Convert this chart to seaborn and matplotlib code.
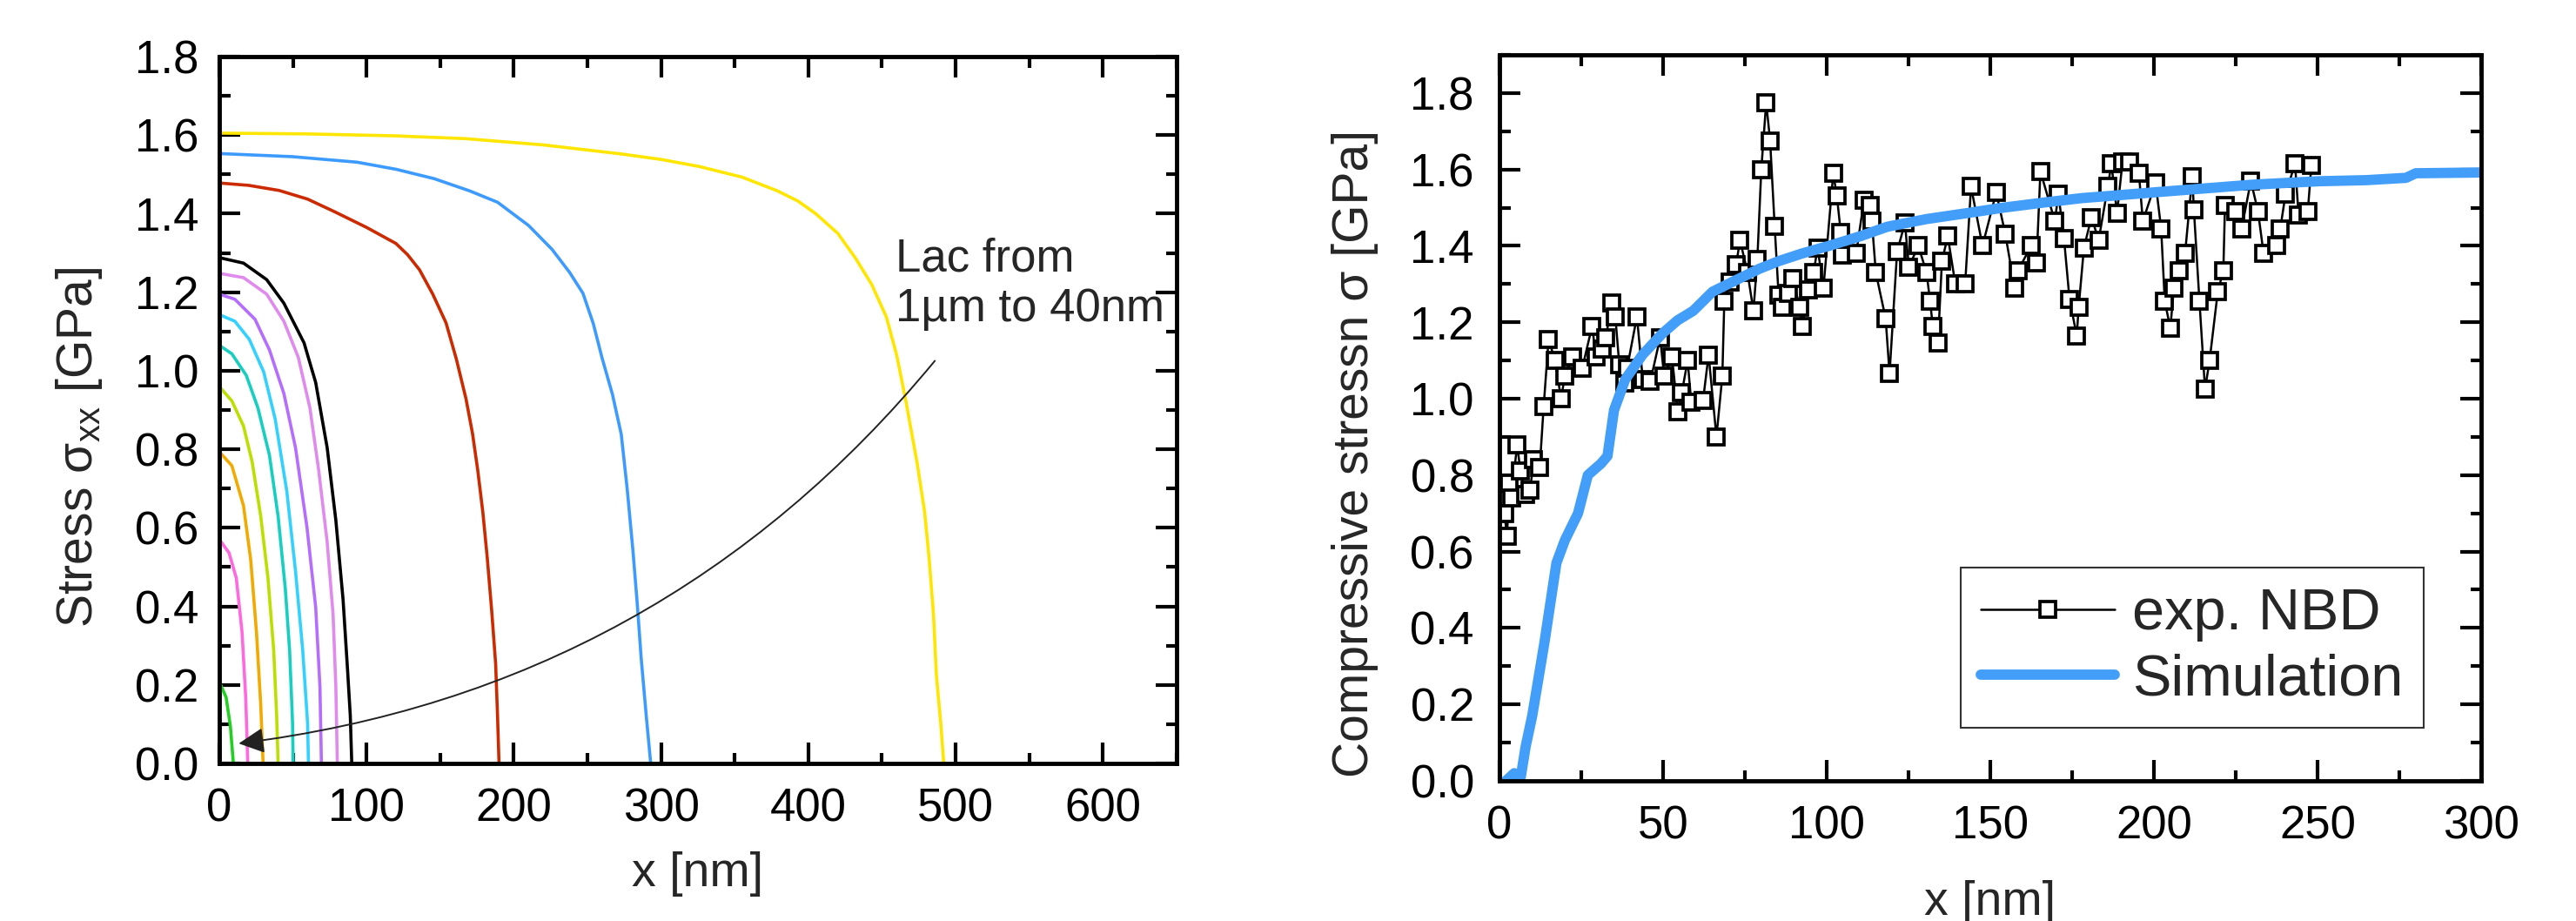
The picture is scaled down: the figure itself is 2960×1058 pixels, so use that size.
import pandas as pd
import seaborn as sns
import matplotlib.pyplot as plt
from matplotlib.ticker import MultipleLocator, FormatStrFormatter

sns.set_style('ticks')
plt.rcParams['font.family'] = ['Liberation Sans', 'DejaVu Sans']
plt.rcParams['mathtext.fontset'] = 'custom'
plt.rcParams['mathtext.rm'] = 'Liberation Sans'
plt.rcParams['mathtext.it'] = 'Liberation Sans:italic'

# ---- left panel: stress profiles for different Lac
yellow_x = [0, 60, 120, 167, 220, 273, 300, 326, 355, 379, 393, 405, 420, 432, 443, 453, 460, 466,
            474, 479, 482, 485, 487, 490, 492]
yellow_y = [1.605, 1.603, 1.598, 1.591, 1.575, 1.552, 1.538, 1.52, 1.493, 1.458, 1.432, 1.40, 1.35,
            1.287, 1.22, 1.137, 1.04, 0.928, 0.763, 0.64, 0.524, 0.38, 0.224, 0.10, 0.0]
blue_x = [0, 50, 93.6, 120, 146, 170, 189, 210, 226, 238, 247, 254, 260, 267, 273, 277, 281, 284,
          286.5, 290, 293]
blue_y = [1.553, 1.545, 1.531, 1.513, 1.489, 1.458, 1.429, 1.37, 1.309, 1.25, 1.197, 1.12, 1.032,
          0.94, 0.838, 0.70, 0.539, 0.40, 0.269, 0.12, 0.0]
red_x = [0, 20, 40.7, 60, 77.7, 100, 120, 128, 136, 145, 154, 161, 167.6, 172, 175.5, 179, 182,
         185, 187.7, 189, 190]
red_y = [1.478, 1.472, 1.459, 1.437, 1.406, 1.365, 1.324, 1.295, 1.257, 1.195, 1.122, 1.03, 0.928,
         0.84, 0.748, 0.64, 0.524, 0.39, 0.254, 0.12, 0.0]
black_x = [0, 16.5, 32.2, 43.9, 57.6, 65.5, 73.3, 79.2, 84.1, 87.1, 89, 90]
black_y = [1.288, 1.274, 1.232, 1.172, 1.071, 0.970, 0.804, 0.619, 0.417, 0.241, 0.122, 0.0]
plum_x = [0, 16.5, 32.2, 43.9, 53.7, 61.6, 67.5, 73.3, 77.3, 79.2, 80.2]
plum_y = [1.248, 1.237, 1.195, 1.126, 1.034, 0.905, 0.748, 0.564, 0.380, 0.195, 0.0]
purple_x = [0, 10.6, 24.3, 34.1, 43.9, 51.8, 59.6, 65.5, 68.4, 69.4]
purple_y = [1.195, 1.182, 1.131, 1.053, 0.942, 0.804, 0.601, 0.398, 0.195, 0.0]
cyan_x = [0, 10.6, 20.4, 30.2, 38, 45.9, 51.8, 56.7, 60, 60.6]
cyan_y = [1.143, 1.126, 1.080, 0.997, 0.877, 0.693, 0.490, 0.288, 0.103, 0.0]
teal_x = [0, 8.6, 18.4, 26.3, 34.1, 40, 44.9, 47.8, 49.8, 50.2]
teal_y = [1.065, 1.043, 0.988, 0.905, 0.785, 0.629, 0.444, 0.288, 0.103, 0.0]
lime_x = [0, 8.6, 16.5, 22.4, 28.2, 33.1, 37, 39, 40]
lime_y = [0.960, 0.923, 0.859, 0.767, 0.629, 0.472, 0.288, 0.122, 0.0]
orange_x = [0, 8.6, 16.5, 21.4, 25.3, 28.2, 29.8]
orange_y = [0.794, 0.758, 0.656, 0.518, 0.334, 0.149, 0.0]
pink_x = [0, 6.7, 11.6, 15.5, 18, 19.4]
pink_y = [0.571, 0.536, 0.472, 0.334, 0.168, 0.0]
green_x = [0, 4.7, 7.6, 9.6]
green_y = [0.209, 0.168, 0.094, 0.0]

curve_names = ['yellow', 'blue', 'red', 'black', 'plum', 'purple', 'cyan', 'teal', 'lime', 'orange', 'pink', 'green']
curve_x = [yellow_x, blue_x, red_x, black_x, plum_x, purple_x, cyan_x, teal_x, lime_x, orange_x, pink_x, green_x]
curve_y = [yellow_y, blue_y, red_y, black_y, plum_y, purple_y, cyan_y, teal_y, lime_y, orange_y, pink_y, green_y]
curve_colors = ['#FFE600', '#3D9BFF', '#CC2A00', '#000000', '#E08AEE', '#B56DFF',
                '#33D1FF', '#17CFC0', '#BBE000', '#F2AA00', '#FF69DD', '#22D022']

# ---- right panel: exp. NBD and simulation
nbd_x = [1.5, 2.3, 3.0, 3.6, 5.4, 6.4, 8.0, 9.3, 10.5, 12.3, 13.5, 15.0, 17.0, 18.8, 20.0, 22.4,
         25.3, 28.3, 29.5, 31.3, 32.5, 34.3, 35.4, 36.6, 38.4, 39.0, 42.0, 43.8, 46.1, 49.1, 50.3,
         52.7, 54.5, 55.7, 57.5, 58.6, 62.2, 63.9, 66.3, 68.1, 68.7, 70.5, 72.3, 73.5, 75.8, 77.6,
         78.8, 80.0, 81.5, 82.7, 84.1, 85.3, 86.5, 88.3, 89.5, 91.8, 92.5, 94.3, 96.0, 97.2, 99.0,
         102.0, 103.1, 104.3, 104.9, 109.0, 111.4, 113.2, 113.8, 115.0, 118.0, 119.2, 121.5, 123.9,
         125.1, 128.0, 130.5, 131.6, 132.4, 134.0, 135.2, 137.0, 139.3, 142.3, 144.1, 147.6, 151.8,
         154.6, 157.4, 158.5, 162.4, 164.1, 165.3, 169.7, 170.8, 172.5, 174.2, 176.4, 177.0, 178.6,
         180.9, 183.1, 185.9, 187.0, 188.7, 190.4, 192.6, 195.4, 196.6, 200.5, 202.2, 203.3, 205.0,
         206.1, 207.8, 209.5, 211.7, 212.2, 213.9, 215.6, 217.0, 219.5, 221.2, 221.7, 225.0, 226.8,
         229.6, 231.8, 233.5, 237.4, 238.6, 240.2, 243.1, 244.2, 247.0, 248.1]
nbd_y = [0.70, 0.64, 0.78, 0.74, 0.88, 0.81, 0.75, 0.76, 0.84, 0.82, 0.98, 1.155, 1.10, 1.00, 1.06, 1.11,
         1.08, 1.19, 1.11, 1.13, 1.16, 1.25, 1.215, 1.09, 1.04, 1.08, 1.215, 1.05, 1.045, 1.16, 1.06,
         1.11, 0.965, 1.015, 1.10, 0.99, 0.995, 1.115, 0.90, 1.06, 1.255, 1.305, 1.35, 1.415, 1.33, 1.23,
         1.365, 1.60, 1.775, 1.675, 1.45, 1.27, 1.24, 1.275, 1.315, 1.24, 1.19, 1.285, 1.33, 1.395, 1.29,
         1.59, 1.53, 1.435, 1.375, 1.38, 1.52, 1.505, 1.465, 1.33, 1.21, 1.065, 1.385, 1.46,
         1.345, 1.40, 1.33, 1.255, 1.19, 1.145, 1.36, 1.425, 1.30, 1.30, 1.555, 1.40, 1.54,
         1.43, 1.29, 1.335, 1.40, 1.355, 1.595, 1.465, 1.535, 1.42, 1.26, 1.165, 1.24, 1.395,
         1.475, 1.415, 1.555, 1.615, 1.485, 1.62, 1.62, 1.59, 1.465, 1.565, 1.445, 1.255, 1.185,
         1.29, 1.335, 1.38, 1.58, 1.495, 1.255, 1.025, 1.10, 1.28, 1.335, 1.505, 1.49, 1.445,
         1.57, 1.49, 1.38, 1.40, 1.445, 1.535, 1.615, 1.48, 1.49, 1.61]
sim_x = [2, 4.5, 6.5, 8, 10, 13.7, 17.4, 20, 24, 27, 31, 33, 35, 38.4, 43.7, 49.7, 54.4, 59.2, 65.1,
         72.2, 79.4, 85.3, 92.4, 100.7, 110.2, 118.5, 130.4, 142.3, 154, 166, 178, 187, 200, 212,
         230, 250, 265, 277, 280, 300]
sim_y = [0.0, 0.02, 0.01, 0.09, 0.17, 0.36, 0.57, 0.63, 0.70, 0.80, 0.83, 0.85, 0.97, 1.05, 1.115,
         1.17, 1.205, 1.23, 1.28, 1.31, 1.34, 1.36, 1.38, 1.40, 1.425, 1.45, 1.47, 1.485, 1.50, 1.513,
         1.525, 1.531, 1.54, 1.548, 1.56, 1.569, 1.572, 1.578, 1.59, 1.592]

rows = []
for name, xs, ys in zip(curve_names, curve_x, curve_y):
    for xv, yv in zip(xs, ys):
        rows.append((name, xv, yv))
left_df = pd.DataFrame(rows, columns=['curve', 'x', 'stress'])
nbd_df = pd.DataFrame({'x': nbd_x, 'stress': nbd_y})
sim_df = pd.DataFrame({'x': sim_x, 'stress': sim_y})

FS = 38      # tick labels
LFS = 41     # axis labels
fig = plt.figure(figsize=(29.6, 10.58), dpi=100)
ax1 = fig.add_axes([0.0851, 0.1711, 0.3716, 0.7675])
ax2 = fig.add_axes([0.5821, 0.1522, 0.3811, 0.7883])


def style_axes(ax, xmajor, xminor, xpad, ypad):
    ax.xaxis.set_major_locator(MultipleLocator(xmajor))
    ax.xaxis.set_minor_locator(MultipleLocator(xminor))
    ax.yaxis.set_major_locator(MultipleLocator(0.2))
    ax.yaxis.set_minor_locator(MultipleLocator(0.1))
    ax.yaxis.set_major_formatter(FormatStrFormatter('%.1f'))
    ax.tick_params(which='both', direction='in', top=True, right=True, width=3,
                   color='black', labelsize=FS, labelcolor='black')
    ax.tick_params(which='major', length=17)
    ax.tick_params(which='minor', length=9)
    ax.tick_params(axis='x', pad=xpad)
    ax.tick_params(axis='y', pad=ypad)
    for sp in ax.spines.values():
        sp.set_linewidth(3.5)
        sp.set_color('black')


# left panel
sns.lineplot(data=left_df, x='x', y='stress', hue='curve', palette=dict(zip(curve_names, curve_colors)),
             estimator=None, sort=False, legend=False, linewidth=2.6, ax=ax1)
ax1.set_xlim(0, 650)
ax1.set_ylim(0, 1.8)
style_axes(ax1, 100, 50, 20, 17)
ax1.set_xlabel('x [nm]', fontsize=LFS - 1)
ax1.set_ylabel('Stress σ$_{\\mathrm{xx}}$ [GPa]', fontsize=LFS)
ax1.xaxis.set_label_coords(0.5, -0.125)
ax1.yaxis.set_label_coords(-0.12, 0.447)
ax1.annotate('', xy=(11.6, 0.05), xytext=(487, 1.03),
             arrowprops=dict(arrowstyle='-|>', connectionstyle='arc3,rad=-0.2',
                             color='#222222', lw=1.4, mutation_scale=45))
ax1.text(459, 1.34, 'Lac from\n1µm to 40nm', fontsize=38, ha='left', va='top', linespacing=1.2)

# right panel
sns.lineplot(data=nbd_df, x='x', y='stress', estimator=None, sort=False, color='black', linewidth=1.8,
             marker='s', markersize=13, mfc='white', mec='black', mew=2.7, label='exp. NBD', ax=ax2)
sns.lineplot(data=sim_df, x='x', y='stress', estimator=None, sort=False, color='#439EFA',
             linewidth=8.5, label='Simulation', ax=ax2)
ax2.set_xlim(0, 300)
ax2.set_ylim(0, 1.9)
style_axes(ax2, 50, 25, 20, 21)
ax2.set_xlabel('x [nm]', fontsize=LFS - 1)
ax2.set_ylabel('Compressive stressn σ [GPa]', fontsize=LFS)
ax2.xaxis.set_label_coords(0.5, -0.137)
ax2.yaxis.set_label_coords(-0.123, 0.451)
leg = ax2.legend(loc='lower right', bbox_to_anchor=(0.941, 0.073), fontsize=48, frameon=True,
                 fancybox=False, edgecolor='black', handlelength=2.3, borderpad=0.35,
                 labelspacing=0.2, handletextpad=0.3, borderaxespad=0)
leg.get_frame().set_linewidth(1.5)

fig.savefig('out.png', dpi=100, facecolor='white')
